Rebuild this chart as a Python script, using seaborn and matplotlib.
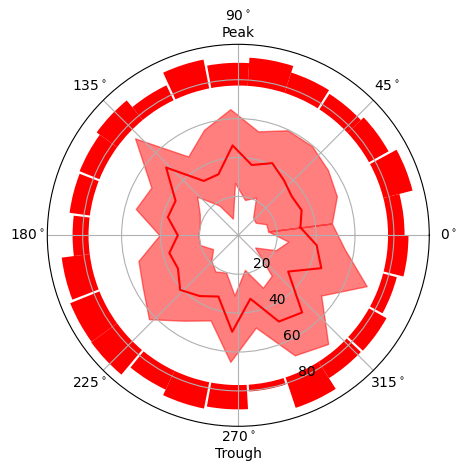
import numpy as np
import matplotlib
matplotlib.use("Agg")
import matplotlib.pyplot as plt
import seaborn as sns

# phase bin centres (degrees)
phase_deg = [7.2, 21.6, 36.0, 50.4, 64.8, 79.2, 93.6, 108.0, 122.4, 136.8,
             151.2, 165.6, 180.0, 194.4, 208.8, 223.2, 237.6, 252.0, 266.4,
             280.8, 295.2, 309.6, 324.0, 338.4, 352.8]

# mean curve and its band
mean_val = [32.2, 35.0, 34.0, 36.8, 41.0, 36.8, 46.3, 33.0, 33.1, 50.9,
            36.8, 37.4, 31.1, 36.6, 35.4, 41.0, 37.0, 33.1, 49.7, 33.2,
            49.0, 51.5, 31.7, 45.9, 40.6]
upper_val = [48.5, 54.5, 57.0, 59.5, 59.7, 54.4, 65.0, 57.0, 48.0, 72.8,
             51.0, 54.4, 40.5, 53.0, 56.0, 63.0, 52.0, 46.0, 65.2, 48.3,
             68.2, 72.5, 52.7, 71.0, 55.0]
lower_val = [15.5, 15.5, 11.0, 12.0, 21.5, 18.5, 27.0, 9.0, 18.2, 29.0,
             22.6, 20.4, 20.5, 20.2, 14.8, 19.0, 22.0, 20.2, 31.0, 18.1,
             29.8, 27.0, 10.7, 20.8, 26.0]

# outer ring: top radius of each phase bin
ring_top = [85.5, 92.5, 88.5, 86.5, 88.0, 91.5, 88.7, 92.1, 85.5, 90.0,
            88.0, 87.5, 85.2, 91.5, 93.2, 93.5, 87.7, 90.8, 89.5, 80.5,
            93.5, 87.0, 87.3, 84.3, 87.5]
ring_base = 77.0
# whether a small white gap precedes each bin
gap_before = [0, 0, 1, 0, 1, 0, 0, 1, 1, 0, 0, 1, 1, 0, 1, 0, 1, 0, 1, 1,
              1, 0, 1, 1, 1]

theta_ticks = [0, 45, 90, 135, 180, 225, 270, 315]
theta_labels = [r"0$^\circ$", r"45$^\circ$", "90$^\\circ$\nPeak", r"135$^\circ$",
                r"180$^\circ$", r"225$^\circ$", "270$^\\circ$\nTrough", r"315$^\circ$"]
r_ticks = [20, 40, 60, 80]

fig = plt.figure(figsize=(4.66, 4.71), dpi=100)
ax = fig.add_axes([0.1015, 0.0949, 0.8197, 0.8110], projection="polar")

ph = np.array(phase_deg)
th = np.deg2rad(np.append(ph, ph[0] + 360))
m = np.append(mean_val, mean_val[0])
up = np.append(upper_val, upper_val[0])
lo = np.append(lower_val, lower_val[0])

ax.fill_between(th, lo, up, color="red", alpha=0.5)
sns.lineplot(x=th, y=m, ax=ax, color="red", linewidth=1.5, sort=False)

# ring bars
binw = 360.0 / len(phase_deg)
gap = 0.8
g = np.array(gap_before, dtype=float)
g_next = np.roll(g, -1)
starts = ph - binw / 2 + g * gap / 2
widths = binw - g * gap / 2 - g_next * gap / 2
heights = np.array(ring_top) - ring_base
ax.bar(np.deg2rad(starts), heights, width=np.deg2rad(widths), bottom=ring_base,
       align="edge", color="red", linewidth=0)

ax.set_xlabel("")
ax.set_ylabel("")
ax.set_rlim(0, 98.2)
ax.set_rticks(r_ticks)
ax.set_rlabel_position(-67.5)
ax.set_thetagrids(theta_ticks, theta_labels)

fig.savefig("out.png", dpi=100)
